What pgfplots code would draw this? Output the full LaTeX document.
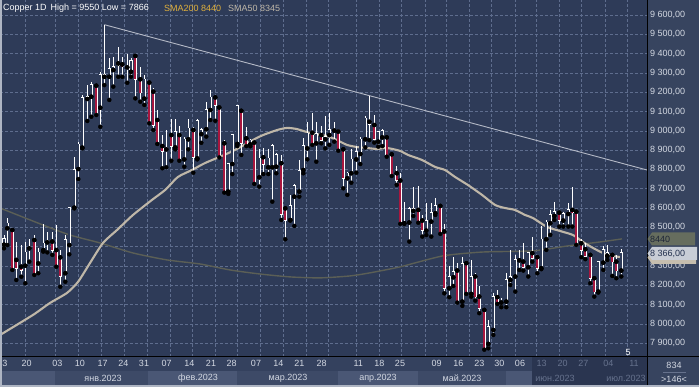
\documentclass[border=0pt]{standalone}
\usepackage{pgfplots}
\pgfplotsset{compat=1.18}
\usepackage{pgfplotstable}
\usepackage{fontspec}
\setmainfont{Liberation Sans}

\definecolor{plotbg}{HTML}{2E3B58}
\definecolor{panelbg}{HTML}{37445F}
\definecolor{gridc}{HTML}{5E6D8E}
\definecolor{candlered}{HTML}{A8163E}
\definecolor{sma50c}{HTML}{BFB7A8}
\definecolor{sma200c}{HTML}{5B5F56}
\definecolor{trendc}{HTML}{B4B9C6}
\definecolor{labc}{HTML}{D3D8E2}
\definecolor{dimc}{HTML}{66728D}
\definecolor{goldc}{HTML}{E0B03C}
\definecolor{rowc}{HTML}{34415E}
\definecolor{bandA}{HTML}{3D4A67}
\definecolor{bandB}{HTML}{4A5775}
\definecolor{dimbg}{HTML}{2A3550}
\definecolor{borderc}{HTML}{AEB5C3}
\definecolor{box50}{HTML}{C6BEAE}
\definecolor{box200}{HTML}{666D5E}
\definecolor{boxlast}{HTML}{C8CDD6}
\definecolor{boxtxt}{HTML}{1E2638}
\definecolor{boxtxtb}{HTML}{23314F}

\pgfplotstableread{
x o h l c
4 8410 8460 8391 8440
7.3 8495 8547 8408 8521
12.3 8486 8490 8279 8287
16.3 8331 8426 8227 8287
21.3 8296 8408 8244 8279
25.3 8301 8422 8210 8370
29.3 8391 8439 8322 8400
34.3 8434 8460 8253 8256
38.3 8313 8391 8262 8370
43.3 8382 8515 8374 8417
47.3 8422 8474 8370 8431
52.3 8426 8477 8357 8382
56.3 8382 8512 8296 8305
60.3 8344 8382 8192 8248
65.3 8262 8460 8218 8434
69.3 8408 8607 8360 8602
74.3 8602 8866 8598 8797
78.3 8802 8944 8750 8930
82.3 8913 9185 8909 9172
87.3 9165 9237 9051 9177
91.3 9177 9254 9073 9237
96.3 9234 9237 9082 9090
100.3 9120 9306 9021 9289
104.3 9280 9550 9237 9289
109.3 9280 9375 9160 9320
113.3 9315 9384 9229 9332
118.3 9349 9432 9280 9341
122.3 9344 9384 9280 9332
127.3 9329 9396 9249 9336
131 9306 9375 9280 9363
135.3 9388 9393 9168 9267
140.3 9267 9332 9151 9198
144.3 9167 9289 9134 9267
149.3 9250 9255 9039 9042
153.3 9203 9220 9004 9030
157.3 9056 9108 8932 8935
162.3 8921 8978 8806 8895
166.3 8904 9004 8811 8912
171.3 8978 9059 8845 8921
175.3 8914 9059 8904 8995
179.3 8978 9025 8845 8852
184.3 8852 8966 8814 8956
188.3 8956 9059 8904 9013
193.3 9004 9018 8783 8862
197.3 8857 9059 8852 9052
201.3 8983 9013 8938 9004
206.3 9008 9151 8970 9108
210.3 9108 9211 9056 9173
215.3 9173 9180 9052 9134
219.3 9121 9134 8862 8866
224.3 8935 8952 8680 8685
228.3 8685 8835 8673 8828
232.3 8828 8983 8776 8978
237.3 8932 9134 8921 9128
241.3 9104 9111 8875 8935
246.3 8961 9018 8921 8932
250.3 8930 8960 8920 8950
254.3 8939 8944 8725 8731
259.3 8759 8904 8711 8858
263.3 8863 8909 8776 8828
268.3 8811 8904 8776 8858
272.3 8811 8932 8633 8921
276.3 8814 8883 8780 8875
281.3 8832 8875 8538 8569
285.3 8598 8607 8438 8538
290.3 8538 8668 8535 8611
294.3 8659 8725 8507 8714
299.3 8685 8849 8659 8792
303.3 8797 8961 8780 8921
307.3 8909 9047 8852 8987
312.3 8990 9094 8927 8935
316.3 8935 9047 8840 8983
321.3 8978 9025 8935 8952
325.3 8956 9077 8909 8970
329.3 8978 9094 8927 9004
334.3 9001 9047 8944 9008
338.3 8996 9008 8897 8904
343.3 8904 8909 8702 8754
347.3 8754 8789 8668 8780
351.3 8780 8904 8731 8852
356.3 8852 8921 8783 8892
360.3 8880 8970 8828 8956
365.3 8956 9077 8914 9065
369.3 9047 9180 8952 9035
374.3 9030 9082 8939 8956
378.3 8944 9001 8918 8996
382.3 8966 9008 8921 9001
386.7 8966 8973 8866 8875
391.7 8878 8883 8766 8771
396.7 8780 8818 8720 8746
400.3 8742 8784 8518 8521
404.3 8521 8633 8518 8525
409.3 8525 8604 8426 8594
413.3 8585 8711 8559 8594
418.3 8590 8714 8524 8535
422.3 8535 8564 8452 8486
426.3 8483 8625 8460 8534
431.3 8530 8628 8452 8576
435.3 8573 8650 8564 8611
440.3 8611 8616 8466 8473
444.3 8478 8518 8158 8184
449.3 8184 8300 8138 8245
453.3 8241 8348 8196 8271
457.3 8276 8317 8110 8115
462.3 8115 8345 8093 8310
466.3 8314 8322 8155 8158
471.3 8155 8331 8141 8245
475.3 8245 8265 8120 8141
479.3 8141 8196 8055 8081
484.3 8072 8075 7866 7873
488.3 7896 8020 7873 7986
493.3 7968 8162 7942 8141
497.3 8138 8176 8103 8115
501.3 8110 8132 8086 8115
506.3 8115 8265 8086 8227
510.3 8227 8383 8201 8245
515.3 8245 8357 8167 8331
519.3 8329 8383 8279 8331
523.3 8322 8417 8276 8293
528.3 8293 8374 8245 8366
532.3 8366 8448 8322 8340
537.3 8345 8357 8262 8288
541.3 8288 8507 8283 8438
546.3 8438 8538 8383 8525
550.3 8521 8590 8461 8564
554.3 8559 8633 8538 8581
559.3 8576 8581 8504 8538
563.3 8535 8581 8504 8569
568.3 8569 8625 8504 8590
572.3 8590 8708 8504 8576
576.3 8581 8590 8409 8417
581.3 8417 8438 8345 8383
585.3 8386 8417 8335 8352
590.3 8357 8366 8210 8236
594.3 8236 8245 8141 8167
598.3 8167 8328 8162 8322
603.3 8317 8404 8279 8383
607.3 8352 8409 8331 8366
612.3 8357 8366 8248 8322
616.3 8322 8357 8236 8276
621.3 8276 8386 8245 8366
}\candles

\pgfplotstableread{
x v
0 7942
33 8046
50 8108
67 8160
78 8217
90 8315
103 8419
117 8486
133 8564
152 8642
165 8693
178 8761
192 8797
205 8833
222 8870
235 8901
255 8958
263 8978
277 9004
287 9015
297 9009
310 8989
327 8973
337 8952
347 8927
357 8916
367 8911
377 8906
387 8911
400 8896
408 8875
422 8849
435 8813
445 8797
455 8761
468 8719
482 8668
495 8616
505 8600
515 8590
525 8564
533 8548
547 8502
560 8481
573 8460
583 8424
593 8393
603 8367
613 8352
620 8346
}\smafifty

\pgfplotstableread{
x v
0 8600
43 8512
70 8460
100 8419
133 8367
167 8331
200 8310
230 8279
260 8258
290 8243
320 8238
350 8248
370 8264
400 8295
443 8352
483 8372
533 8378
567 8403
600 8424
622 8440
}\smatwohundred

\pgfplotsset{
  candlebars/.style={only marks, mark=none, forget plot,
    error bars/y dir=both, error bars/y explicit, error bars/error mark=none},
}

\begin{document}
\begin{tikzpicture}[font=\fontsize{9}{10}\selectfont]
\begin{scope}[x=1pt,y=1pt]
\fill[panelbg] (0,0) rectangle (699,387);
\fill[rowc] (0,16) rectangle (647,30);
\fill[bandB] (0,2) rectangle (55,16);
\fill[bandA] (55,2) rectangle (148,16);
\fill[bandB] (148,2) rectangle (237,16);
\fill[bandA] (237,2) rectangle (338,16);
\fill[bandB] (338,2) rectangle (418,16);
\fill[bandA] (418,2) rectangle (506,16);
\fill[bandB] (506,2) rectangle (532,16);
\fill[dimbg] (532,2) rectangle (647,30);
\end{scope}

\begin{axis}[
  anchor=south west, at={(0pt,30pt)},
  x=1pt, y=0.192973pt,
  xmin=0, xmax=647, ymin=7828, ymax=9678,
  axis background/.style={fill=plotbg},
  axis line style={draw=none},
  clip=false,
  major tick length=0pt,
  ytick={7900,8000,8100,8200,8300,8500,8600,8700,8800,8900,9000,9100,9200,9300,9400,9500,9600},
  extra y ticks={8400}, extra y tick labels={},
  extra y tick style={grid=major},
  ytick pos=right, yticklabel pos=right,
  yticklabel style={anchor=west, inner sep=0pt, xshift=3pt, text=labc,
    font=\fontsize{9}{10}\selectfont,
    /pgf/number format/.cd, fixed, fixed zerofill, precision=2, use comma,
    1000 sep={\ }, assume math mode=true},
  xtick={25,55,78,101.5,124,147,170,192.5,215,237.5,260.5,283,306,328.5,356.5,379.5,401.5,425,446.5,469.5,491.5,515,536.5,559.5,581.5,605,627.5},
  xticklabels={},
  xtick pos=bottom,
  grid=major,
  major grid style={gridc, line width=0.6pt, dash pattern=on 2.5pt off 2.5pt},
  extra x ticks={5,26.7,57.3,80,102.7,123.3,144,166.7,189.3,211,231.7,256,278.3,299.3,321.7,358.3,379.3,400,436.7,458.3,479.3,499.3,520,541.7,562.7,583.3,608.3,634},
  extra x tick labels={3,20,03,10,17,24,31,07,14,21,28,07,14,21,28,11,18,25,09,16,23,30,06,\textcolor{dimc}{13},\textcolor{dimc}{20},\textcolor{dimc}{27},\textcolor{dimc}{04},\textcolor{dimc}{11}},
  extra x tick style={grid=none, xticklabel style={anchor=north, inner sep=0pt, yshift=-3pt, text=labc, font=\fontsize{9}{10}\selectfont}},
]
\addplot[sma200c, line width=1.4pt, smooth, tension=0.4] table[x=x,y=v] {\smatwohundred};
\addplot[sma50c, line width=2.1pt, smooth, tension=0.4] table[x=x,y=v] {\smafifty};
\addplot[trendc, line width=0.9pt] coordinates {(104.3,9550) (647,8797)};
% wicks
\addplot[candlebars, error bars/error bar style={white, line width=0.75pt}]
  table[x=x, y=l, y error plus expr={\thisrow{h}-\thisrow{l}}, y error minus expr={0}] {\candles};
% body outlines
\addplot[candlebars, error bars/error bar style={white, line width=3.4pt}]
  table[x=x, y=o, y error plus expr={max(\thisrow{c}-\thisrow{o},0)+3.6}, y error minus expr={max(\thisrow{o}-\thisrow{c},0)+3.6}] {\candles};
% bull bodies (hollow)
\addplot[candlebars, restrict expr to domain={\thisrow{c}-\thisrow{o}}{0:100000}, error bars/error bar style={plotbg, line width=1.8pt}]
  table[x=x, y=o, y error plus expr={\thisrow{c}-\thisrow{o}}, y error minus expr={0}] {\candles};
% bear bodies (red)
\addplot[candlebars, restrict expr to domain={\thisrow{c}-\thisrow{o}}{-100000:-0.5}, error bars/error bar style={candlered, line width=1.8pt}]
  table[x=x, y=o, y error plus expr={0}, y error minus expr={\thisrow{o}-\thisrow{c}}] {\candles};
\end{axis}

\begin{scope}[x=1pt,y=1pt]
% frame lines
\draw[black, line width=1pt] (0,30) -- (699,30);
\draw[black, line width=1pt] (647.5,0) -- (647.5,387);
\fill[borderc] (0,0) rectangle (2,387);
\fill[borderc] (0,0) rectangle (699,1.5);

% title
\node[anchor=west, inner sep=0pt, text=white] at (3,379) {Copper 1D\, High = 9550 Low = 7866};
\node[anchor=west, inner sep=0pt, text=goldc] at (164,379) {SMA200 8440};
\node[anchor=west, inner sep=0pt, text=sma50c] at (228,379) {SMA50 8345};

% month labels
\node[text=labc] at (103,8.5) {янв.2023};
\node[text=labc] at (198,8.5) {фев.2023};
\node[text=labc] at (288,8.5) {мар.2023};
\node[text=labc] at (378,8.5) {апр.2023};
\node[text=labc] at (462,8.5) {май.2023};
\node[text=dimc] at (555,8.5) {июн.2023};
\node[text=dimc] at (626,8.5) {июл.2023};

% right bottom box
\node[text=labc] at (674,22) {834};
\draw[dimc, line width=0.6pt] (663,15) -- (686,15);
\node[text=labc] at (674,7.5) {>146<};
\node[text=white] at (628,35) {5};

% price markers
\fill[box50] (647.5,129.5) -- (652,136) -- (696,136) -- (696,123) -- (652,123) -- cycle;
\fill[box200] (647.5,148) -- (652,154.5) -- (695,154.5) -- (695,141.5) -- (652,141.5) -- cycle;
\node[anchor=west, inner sep=0pt, text=boxtxt] at (650,148) {8440};
\fill[boxlast] (647.5,133.5) -- (652,140) -- (697,140) -- (697,127) -- (652,127) -- cycle;
\node[anchor=west, inner sep=0pt, text=boxtxtb] at (650,133.5) {8\ 366,00};
\end{scope}

\pgfresetboundingbox
\path (0pt,0pt) rectangle (699pt,387pt);
\end{tikzpicture}
\end{document}
